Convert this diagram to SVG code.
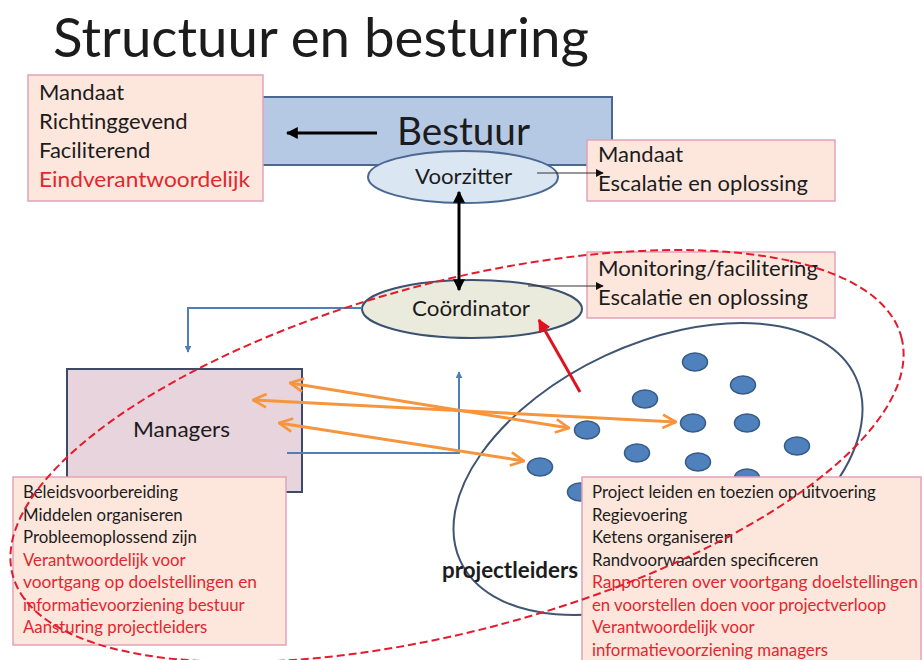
<svg xmlns="http://www.w3.org/2000/svg" width="924" height="660" viewBox="0 0 924 660">
  <style>
    text { font-family: Lato, "Open Sans", "Liberation Sans", sans-serif; fill: #1c1c1c; }
    .t24 { font-size: 22px; }
    .t18 { font-size: 16.8px; }
    .red { fill: #e3262e; }
    .note { fill: #fde7dd; stroke: #e2a3b8; stroke-width: 1.5; }
    .dot { fill: #4f81bd; stroke: #375b88; stroke-width: 1.5; }
    .blue { fill: none; stroke: #4f7fb8; stroke-width: 2; }
    .orange { fill: none; stroke: #f5963f; stroke-width: 3; }
    .thin { fill: none; stroke: #333333; stroke-width: 1; }
  </style>
  <defs>
    <marker id="mBlack" viewBox="0 0 10 10" refX="9" refY="5" markerWidth="12" markerHeight="12" markerUnits="userSpaceOnUse" orient="auto-start-reverse">
      <path d="M0,0 L10,5 L0,10 z" fill="#000"/>
    </marker>
    <marker id="mSmall" viewBox="0 0 10 10" refX="9" refY="5" markerWidth="8" markerHeight="8" markerUnits="userSpaceOnUse" orient="auto">
      <path d="M0,0 L10,5 L0,10 z" fill="#111"/>
    </marker>
    <marker id="mBlue" viewBox="0 0 10 10" refX="9" refY="5" markerWidth="7" markerHeight="7" markerUnits="userSpaceOnUse" orient="auto">
      <path d="M0,0 L10,5 L0,10 z" fill="#4f7fb8"/>
    </marker>
    <marker id="mRed" viewBox="0 0 10 10" refX="9" refY="5" markerWidth="13" markerHeight="13" markerUnits="userSpaceOnUse" orient="auto">
      <path d="M0,0 L10,5 L0,10 z" fill="#e3101e"/>
    </marker>
    <marker id="mOrange" viewBox="0 0 12 12" refX="11" refY="6" markerWidth="16" markerHeight="16" markerUnits="userSpaceOnUse" orient="auto-start-reverse">
      <path d="M1,1 L11,6 L1,11" fill="none" stroke="#f5963f" stroke-width="2"/>
    </marker>
  </defs>

  <rect width="924" height="660" fill="#ffffff"/>

  <g id="title">
    <text x="53" y="57" font-size="54" textLength="536" lengthAdjust="spacingAndGlyphs">Structuur en besturing</text>
  </g>

  <g id="bestuur">
    <rect x="240" y="97" width="372" height="68" fill="#b6c9e4" stroke="#4a6890" stroke-width="2"/>
    <line x1="377" y1="133" x2="287" y2="133" stroke="#000" stroke-width="3" marker-end="url(#mBlack)"/>
    <text x="397" y="145" font-size="39" textLength="133" lengthAdjust="spacingAndGlyphs">Bestuur</text>
  </g>

  <g id="bestuur-taken">
    <rect class="note" x="28" y="75" width="235" height="126"/>
    <text class="t24" x="39" y="100">Mandaat</text>
    <text class="t24" x="39" y="129">Richtinggevend</text>
    <text class="t24" x="39" y="158">Faciliterend</text>
    <text class="t24 red" x="39" y="187" textLength="211" lengthAdjust="spacingAndGlyphs">Eindverantwoordelijk</text>
  </g>

  <g id="voorzitter">
    <ellipse cx="463" cy="177" rx="95" ry="26" fill="#dbe6f3" stroke="#4a6890" stroke-width="2"/>
    <text class="t24" x="415" y="184" textLength="97" lengthAdjust="spacingAndGlyphs">Voorzitter</text>
  </g>

  <g id="voorzitter-taken">
    <rect class="note" x="587" y="140" width="248" height="61"/>
    <text class="t24" x="598" y="162">Mandaat</text>
    <text class="t24" x="598" y="191" textLength="210" lengthAdjust="spacingAndGlyphs">Escalatie en oplossing</text>
  </g>

  <g id="coordinator">
    <ellipse cx="472" cy="309" rx="110" ry="29" fill="#ebebdd" stroke="#3c5070" stroke-width="2"/>
    <text class="t24" x="412" y="316" textLength="118" lengthAdjust="spacingAndGlyphs">Coördinator</text>
  </g>

  <g id="coordinator-taken">
    <rect class="note" x="587" y="252" width="248" height="66"/>
    <text class="t24" x="598" y="276" textLength="220" lengthAdjust="spacingAndGlyphs">Monitoring/facilitering</text>
    <text class="t24" x="598" y="305" textLength="210" lengthAdjust="spacingAndGlyphs">Escalatie en oplossing</text>
  </g>

  <g id="managers">
    <rect x="67" y="369" width="235" height="123" fill="#e8d4dc" stroke="#3d4a63" stroke-width="2"/>
    <text class="t24" x="133" y="437" textLength="97" lengthAdjust="spacingAndGlyphs">Managers</text>
  </g>

  <g id="projectleiders">
    <ellipse cx="658" cy="469" rx="218" ry="125" transform="rotate(-25 658 469)" fill="none" stroke="#3f5573" stroke-width="2"/>
    <ellipse class="dot" cx="695" cy="362" rx="12.5" ry="9"/>
    <ellipse class="dot" cx="743" cy="385" rx="12.5" ry="9"/>
    <ellipse class="dot" cx="645" cy="399" rx="12.5" ry="9"/>
    <ellipse class="dot" cx="587" cy="430" rx="12.5" ry="9"/>
    <ellipse class="dot" cx="693" cy="423" rx="12.5" ry="9"/>
    <ellipse class="dot" cx="747" cy="423" rx="12.5" ry="9"/>
    <ellipse class="dot" cx="637" cy="453" rx="12.5" ry="9"/>
    <ellipse class="dot" cx="698" cy="462" rx="12.5" ry="9"/>
    <ellipse class="dot" cx="797" cy="446" rx="12.5" ry="9"/>
    <ellipse class="dot" cx="540" cy="467" rx="12.5" ry="9"/>
    <ellipse class="dot" cx="747" cy="478" rx="12.5" ry="9"/>
    <ellipse class="dot" cx="580" cy="492" rx="12.5" ry="9"/>
  </g>

  <g id="connectors">
    <line class="thin" x1="537" y1="173" x2="603" y2="173" marker-end="url(#mSmall)"/>
    <line class="thin" x1="528" y1="286" x2="603" y2="286" marker-end="url(#mSmall)"/>
    <line x1="459" y1="192" x2="459" y2="290" stroke="#000" stroke-width="3" marker-start="url(#mBlack)" marker-end="url(#mBlack)"/>
    <polyline class="blue" points="362,308 188,308 188,352" marker-end="url(#mBlue)"/>
    <polyline class="blue" points="287,453 459,453 459,372" marker-end="url(#mBlue)"/>
    <line class="orange" x1="290" y1="383" x2="569" y2="428" marker-start="url(#mOrange)" marker-end="url(#mOrange)"/>
    <line class="orange" x1="253" y1="400" x2="676" y2="422" marker-start="url(#mOrange)" marker-end="url(#mOrange)"/>
    <line class="orange" x1="279" y1="423" x2="524" y2="461" marker-start="url(#mOrange)" marker-end="url(#mOrange)"/>
    <line x1="580" y1="392" x2="539" y2="320" stroke="#e3101e" stroke-width="3" marker-end="url(#mRed)"/>
  </g>

  <g id="managers-taken">
    <rect class="note" x="13" y="477" width="273" height="168"/>
    <text class="t18" x="23" y="498">Beleidsvoorbereiding</text>
    <text class="t18" x="23" y="520.5">Middelen organiseren</text>
    <text class="t18" x="23" y="543">Probleemoplossend zijn</text>
    <text class="t18 red" x="23" y="565.5">Verantwoordelijk voor</text>
    <text class="t18 red" x="23" y="588" textLength="234" lengthAdjust="spacingAndGlyphs">voortgang op doelstellingen en</text>
    <text class="t18 red" x="23" y="610.5">informatievoorziening bestuur</text>
    <text class="t18 red" x="23" y="633">Aansturing projectleiders</text>
  </g>

  <g id="projectleiders-taken">
    <rect class="note" x="582" y="477" width="339" height="190"/>
    <text class="t18" x="592" y="498">Project leiden en toezien op uitvoering</text>
    <text class="t18" x="592" y="520.5">Regievoering</text>
    <text class="t18" x="592" y="543">Ketens organiseren</text>
    <text class="t18" x="592" y="565.5">Randvoorwaarden specificeren</text>
    <text class="t18 red" x="592" y="588" textLength="326" lengthAdjust="spacingAndGlyphs">Rapporteren over voortgang doelstellingen</text>
    <text class="t18 red" x="592" y="610.5">en voorstellen doen voor projectverloop</text>
    <text class="t18 red" x="592" y="633">Verantwoordelijk voor</text>
    <text class="t18 red" x="592" y="655.5">informatievoorziening managers</text>
  </g>

  <g id="projectleiders-label">
    <text x="442" y="578" font-size="22" font-weight="bold" textLength="136" lengthAdjust="spacingAndGlyphs">projectleiders</text>
  </g>

  <g id="samenwerking">
    <ellipse cx="457" cy="456" rx="460" ry="174" transform="rotate(-15 457 456)" fill="none" stroke="#e31b2d" stroke-width="2" stroke-dasharray="8 4"/>
  </g>
</svg>
